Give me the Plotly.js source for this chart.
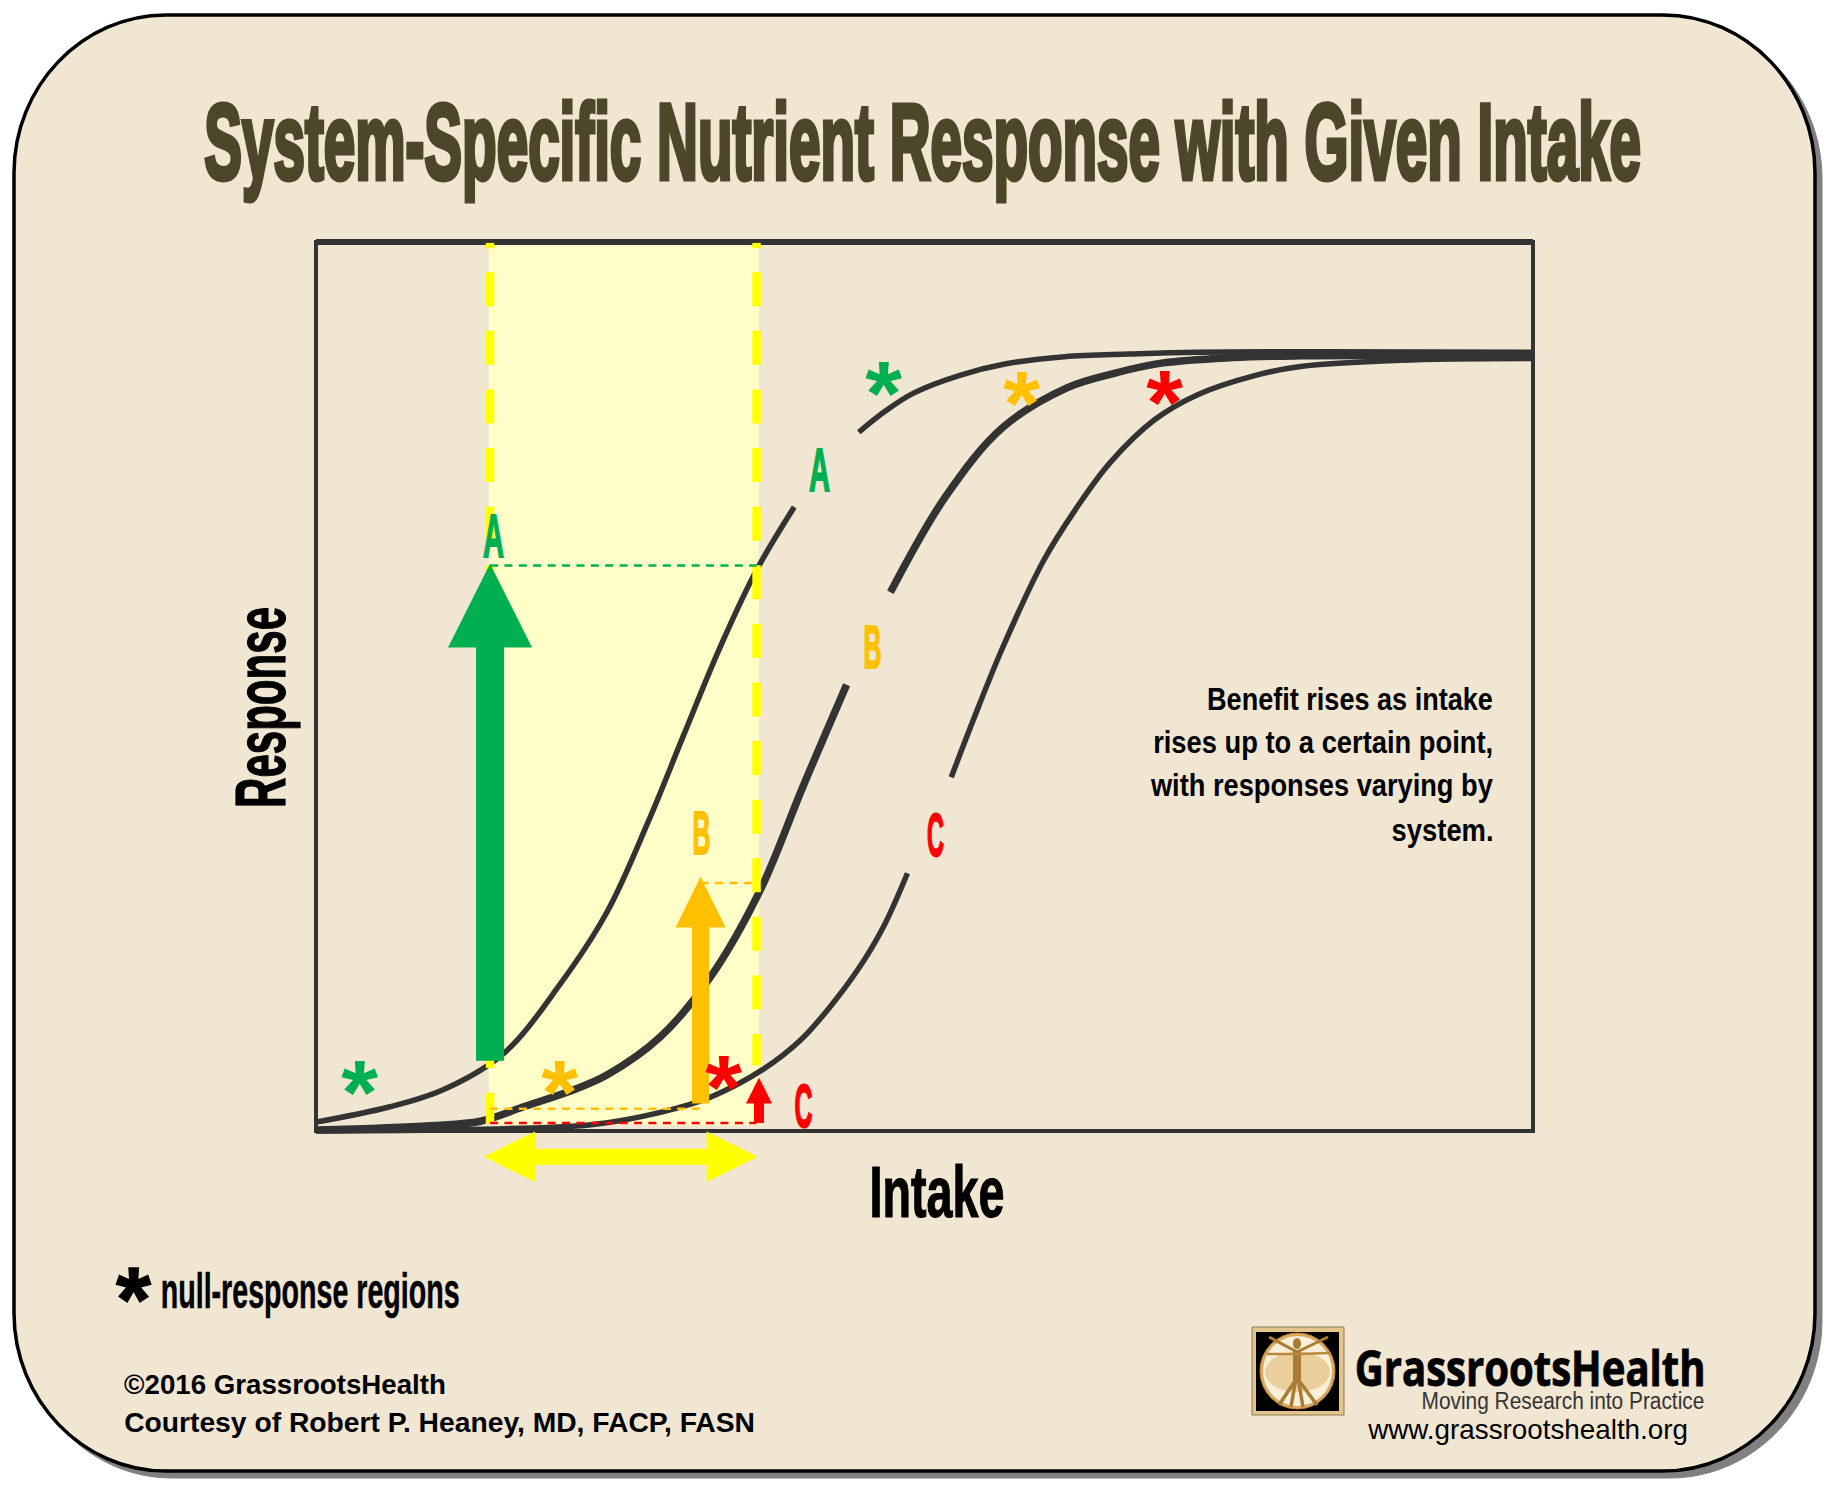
<!DOCTYPE html>
<html><head><meta charset="utf-8">
<script src="https://cdn.plot.ly/plotly-3.0.1.min.js"></script>
<style>html,body{margin:0;padding:0;background:#fff}#c{width:1832px;height:1486px}</style>
</head><body><div id="c"></div>
<script>
// ---------- chart values (Intake 0-100, Response 0-100) ----------
const curveAX=[0,6.0,10.4,15.4,20.0,23.9,27.3,30.2,33.2,36.2,39.3,null,44.6,46.7,49.1,52.9,56.7,61.5,66.8,72.4,100];
const curveAY=[1.0,2.7,4.6,8.7,16.4,24.6,34.8,44.5,54.4,63.1,70.2,null,78.6,80.9,83.0,85.0,86.3,87.1,87.4,87.6,87.6];
const curveBX=[0,9.4,13.5,17.0,20.9,23.9,28.3,32.4,36.5,40.0,43.6,null,47.2,51.7,56.4,61.7,65.5,69.6,75.3,80.9,100];
const curveBY=[0.1,0.6,1.1,2.7,4.5,6.3,10.6,17.3,27.1,38.7,50.2,null,60.6,71.3,79.1,83.6,85.2,86.4,87.0,87.2,87.3];
const curveCX=[0,13.3,22.6,28.3,32.4,36.7,39.8,42.2,44.5,46.6,48.6,null,52.2,54.0,56.4,59.8,62.4,65.2,68.9,72.4,77.2,80.9,89.1,100];
const curveCY=[0,0.2,0.7,2.1,3.8,6.9,10.2,13.9,18.1,22.9,29.0,null,39.8,46.2,54.3,64.2,69.9,75.1,80.0,82.8,85.0,86.0,86.7,86.9];
const windowX=[14.3,36.2];
const arrowNames=['A','B','C'];
const arrowX=[14.3,31.6,36.4];
const arrowBase=[7.9,3.1,0.9];
const arrowTip=[63.8,28.6,6.0];
const starX=[3.6,20.0,33.5,46.6,58.0,69.7];
const starY=[6.4,6.4,7.0,85.0,83.9,84.0];
const titleText='System-Specific Nutrient Response with Given Intake';
const bodyLines=['Benefit rises as intake','rises up to a certain point,','with responses varying by','system.'];

// ---------- styles ----------
const W=1832,H=1486,GREEN='#00B050',ORANGE='#FFC000',RED='#FF0000',YEL='#FFFF00',DARK='#333333',BG='#F1E6D2',SHADE='#FFFDC8',TITLE='#4D4629';
const COND='"Liberation Sans Narrow","Liberation Sans",sans-serif',ARIAL='"Liberation Sans",sans-serif',NOTO='"Open Sans","Noto Sans",sans-serif';
const px=x=>x/W, py=y=>1-y/H;
const p=(x,y)=>px(x).toFixed(5)+','+py(y).toFixed(5);

// rounded frame
function frame(l,t,r,b,rx,ry){const k=0.45;return 'M'+p(l+rx,t)+' L'+p(r-rx,t)+
 ' C'+p(r-rx*k,t)+' '+p(r,t+ry*k)+' '+p(r,t+ry)+' L'+p(r,b-ry)+
 ' C'+p(r,b-ry*k)+' '+p(r-rx*k,b)+' '+p(r-rx,b)+' L'+p(l+rx,b)+
 ' C'+p(l+rx*k,b)+' '+p(l,b-ry*k)+' '+p(l,b-ry)+' L'+p(l,t+ry)+
 ' C'+p(l,t+ry*k)+' '+p(l+rx*k,t)+' '+p(l+rx,t)+' Z';}
const pShape=(path,fill,lc,lw,layer)=>({type:'path',xref:'paper',yref:'paper',path,fillcolor:fill,line:{color:lc||fill,width:lw||0},layer:layer||'below'});
const rect=(x0,y0,x1,y1,fill,lc,lw)=>({type:'rect',xref:'paper',yref:'paper',x0:px(x0),x1:px(x1),y0:py(y0),y1:py(y1),fillcolor:fill,line:{color:lc||fill,width:lw||0},layer:'below'});
const oval=(x0,y0,x1,y1,fill,lc,lw)=>Object.assign(rect(x0,y0,x1,y1,fill,lc,lw),{type:'circle'});
const seg=(x0,y0,x1,y1,c,w)=>pShape('M'+p(x0,y0)+' L'+p(x1,y1),'rgba(0,0,0,0)',c,w);

const shapes=[
 pShape(frame(20,21,1822,1478,152,158),'#808080','#808080',1),
 pShape(frame(14,15,1815,1471,152,158),BG,'#000000',3.5),
 {type:'rect',xref:'x',yref:'y',x0:14.2,x1:36.4,y0:0.7,y1:99.6,fillcolor:SHADE,line:{width:0},layer:'below'},
 {type:'rect',xref:'x',yref:'y',x0:0,x1:100,y0:0,y1:100,fillcolor:'rgba(0,0,0,0)',line:{color:DARK,width:4},layer:'below'},
 {type:'line',xref:'x',yref:'y',x0:0,x1:100,y0:100,y1:100,line:{color:DARK,width:6},layer:'below'},
 // logo
 rect(1252,1327,1344,1415,'#E3C48C','#8A7A55',1),
 rect(1256,1332,1339,1411,'#000000'),
 oval(1260,1333,1335,1409,'#D9A860','#C98A30',1),
 oval(1263,1336,1332,1406,'#F8EFD8'),
 oval(1265,1352,1330,1392,'#E8CF9C'),
 oval(1293,1338,1301,1349,'#A97C35'),
 seg(1297,1350,1297,1380,'#A97C35',8),
 seg(1297,1352,1269,1337,'#A97C35',3),
 seg(1297,1352,1328,1337,'#A97C35',3),
 seg(1297,1354,1267,1354,'#B98A3C',2.5),
 seg(1297,1354,1331,1353,'#B98A3C',2.5),
 seg(1297,1378,1279,1405,'#A97C35',3.5),
 seg(1297,1378,1317,1405,'#A97C35',3.5),
 seg(1296,1378,1291,1407,'#A97C35',3.5),
 seg(1298,1378,1303,1407,'#A97C35',3.5)
];

// ---------- traces ----------
const ln=(x,y,c,w,dash,spline)=>({type:'scatter',mode:'lines',x,y,hoverinfo:'skip',connectgaps:false,
  line:{color:c,width:w,dash:dash||'solid',shape:spline?'spline':'linear',smoothing:1}});
const poly=(x,y,c)=>({type:'scatter',mode:'lines',x,y,fill:'toself',fillcolor:c,hoverinfo:'skip',line:{color:c,width:0}});
function upArrow(xc,base,tip,hs,hh,hl,c){const b=tip-hl;return poly([xc-hs,xc-hs,xc-hh,xc,xc+hh,xc+hs,xc+hs,xc-hs],[base,b,b,tip,b,b,base,base],c);}

const traces=[
 ln(curveAX,curveAY,DARK,5.5,null,true),
 ln(curveBX,curveBY,DARK,7.5,null,true),
 ln(curveCX,curveCY,DARK,5.5,null,true),
 ln([windowX[0],windowX[0]],[96.6,0.8],YEL,8.5,'34px,24.6px'),
 ln([windowX[1],windowX[1]],[96.6,7.4],YEL,8.5,'34px,24.6px'),
 ln([windowX[0],windowX[0]],[99.9,99.3],YEL,8.5),
 ln([windowX[1],windowX[1]],[99.9,99.3],YEL,8.5),
 ln([windowX[0],windowX[1]],[63.6,63.6],GREEN,2.5,'8px,6.4px'),
 ln([arrowX[1],windowX[1]],[27.9,27.9],ORANGE,2.5,'8px,6.4px'),
 ln([windowX[0],arrowX[1]],[2.5,2.5],ORANGE,2.5,'8px,6.4px'),
 ln([windowX[0],windowX[1]],[0.9,0.9],RED,2.5,'8px,6.4px'),
 upArrow(arrowX[0],arrowBase[0],arrowTip[0],1.15,3.45,9.4,GREEN),
 upArrow(arrowX[1],arrowBase[1],arrowTip[1],0.70,2.05,5.7,ORANGE),
 upArrow(arrowX[2],arrowBase[2],arrowTip[2],0.41,1.07,2.9,RED),
 poly([13.8,18.0,18.0,32.1,32.1,36.3,32.1,32.1,18.0,18.0,13.8],[-2.9,-0.05,-2.0,-2.0,-0.05,-2.9,-5.75,-3.8,-3.8,-5.75,-2.9],YEL)
];

// ---------- text ----------
const annots=[],fits=[];
function label(text,x0,x1,base,fs,color,o){o=o||{};
  const m=o.mid===undefined?0.3465:o.mid;
  annots.push({text,xref:'paper',yref:'paper',x:px((x0+x1)/2),y:py(base-m*fs),xanchor:'center',yanchor:'middle',showarrow:false,borderpad:0,
    font:{family:o.family||COND,size:fs,color,weight:o.weight||700}});
  fits.push({w:x1-x0,stroke:o.stroke||0,color});
}
label(titleText,204,1641,179,107,TITLE,{stroke:4});
label('Intake',870,1005,1217,72,'#000000',{stroke:1});
label('null-response regions',160,459,1308,50,'#000000',{stroke:0.4});
label(bodyLines[0],1207,1493,710,32,'#000000',{family:ARIAL});
label(bodyLines[1],1153,1493,753,32,'#000000',{family:ARIAL});
label(bodyLines[2],1150,1493,796,32,'#000000',{family:ARIAL});
label(bodyLines[3],1391,1493,841,32,'#000000',{family:ARIAL});
label('©2016 GrassrootsHealth',124,446,1394,27,'#000000',{family:ARIAL});
label('Courtesy of Robert P. Heaney, MD, FACP, FASN',124,755,1432,27,'#000000',{family:ARIAL});
label('GrassrootsHealth',1354,1705,1386,48,'#000000',{family:NOTO,mid:0.388,stroke:0.8});
label('Moving Research into Practice',1421,1704,1409,23,'#333333',{family:ARIAL,weight:400});
label('www.grassrootshealth.org',1367,1688,1439,28,'#000000',{family:ARIAL,weight:400});
const letters=[['A',483,504,557,GREEN],['A',809,830,491,GREEN],['B',863,881,668,ORANGE],['B',692,710,854,ORANGE],['C',927,944,856,RED],['C',794,812,1127,RED]];
letters.forEach(l=>label(l[0],l[1],l[2],l[3],62,l[4],{stroke:1.5}));
// Response (rotated)
annots.push({text:'Response',xref:'paper',yref:'paper',x:px(285-0.3465*70),y:py(707),xanchor:'center',yanchor:'middle',textangle:-90,showarrow:false,borderpad:0,
  font:{family:COND,size:70,color:'#000000',weight:700}});
fits.push({w:201,stroke:1,color:'#000000'});
// stars
const starColors=[GREEN,ORANGE,RED,GREEN,ORANGE,RED];
starX.forEach((x,i)=>{annots.push({text:'*',xref:'x',yref:'y',x,y:starY[i],xanchor:'center',yanchor:'middle',yshift:-19,showarrow:false,borderpad:0,
  font:{family:ARIAL,size:90,color:starColors[i],weight:700}});fits.push({w:34,stroke:0,color:starColors[i]});});
annots.push({text:'*',xref:'paper',yref:'paper',x:px(133),y:py(1281),xanchor:'center',yanchor:'middle',yshift:-19,showarrow:false,borderpad:0,
  font:{family:ARIAL,size:90,color:'#000000',weight:700}});fits.push({w:32,stroke:1.5,color:'#000000'});

const layout={width:W,height:H,margin:{l:0,r:0,t:0,b:0,pad:0},paper_bgcolor:'#FFFFFF',plot_bgcolor:'rgba(0,0,0,0)',showlegend:false,
 xaxis:{visible:false,range:[-25.966,124.569],fixedrange:true},
 yaxis:{visible:false,range:[-39.933,127.222],fixedrange:true},
 shapes,annotations:annots};

Plotly.newPlot('c',traces,layout,{staticPlot:true,displayModeBar:false}).then(()=>{
  fits.forEach((f,i)=>{
    const t=document.querySelector('.annotation[data-index="'+i+'"] text');
    if(!t)return;
    const bb=t.getBBox();
    const ink=(t.textContent==='*')?0.36/0.389:1;
    const sx=f.w/(bb.width*ink), cx=bb.x+bb.width/2;
    t.setAttribute('transform','translate('+cx+',0) scale('+sx+',1) translate('+(-cx)+',0)');
    if(f.stroke){t.style.stroke=f.color;t.style.strokeWidth=f.stroke+'px';t.style.vectorEffect='non-scaling-stroke';}
  });
});
</script></body></html>
